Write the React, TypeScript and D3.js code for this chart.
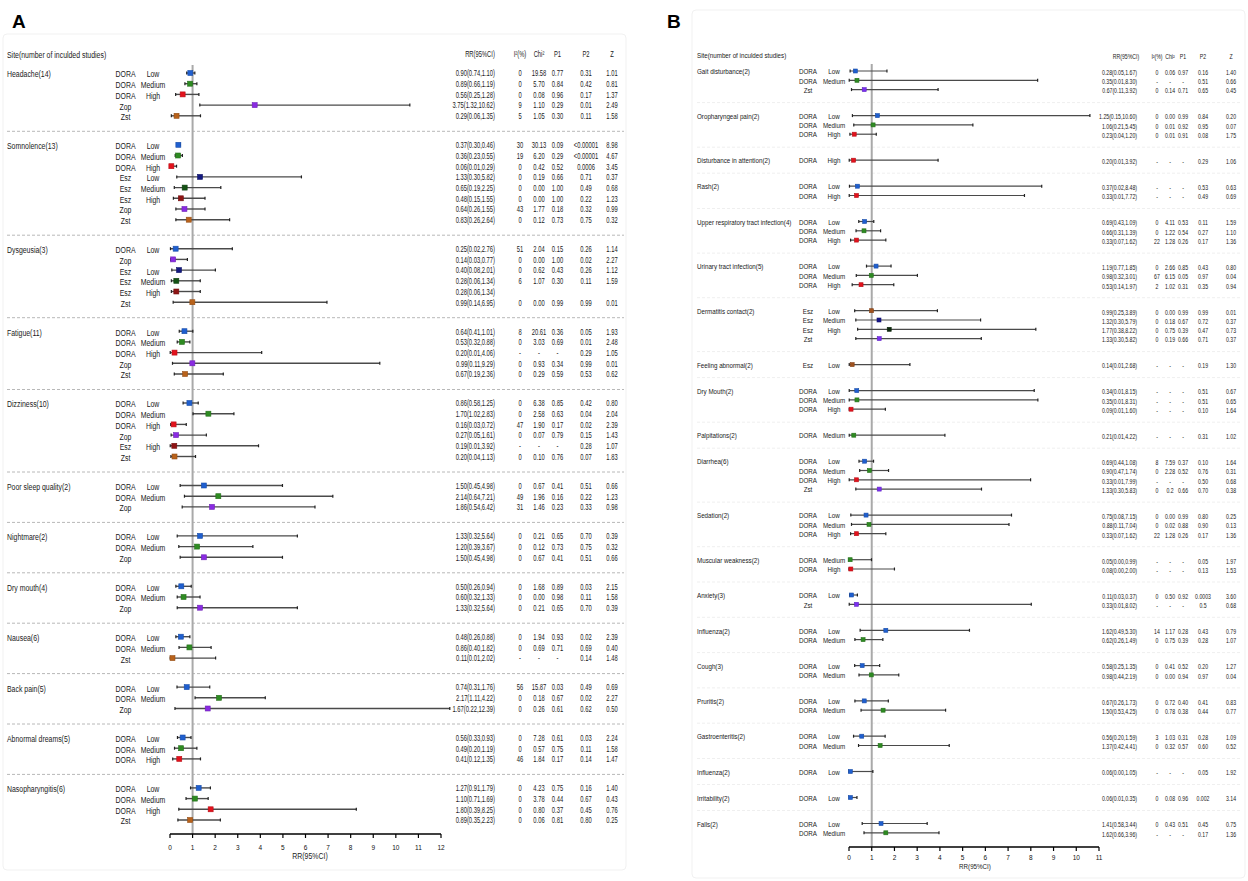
import React from 'react';
import * as d3 from 'd3';

// ---------------- Panel A data ----------------
const groupsA = ["Headache(14)", "Somnolence(13)", "Dysgeusia(3)", "Fatigue(11)", "Dizziness(10)", "Poor sleep quality(2)", "Nightmare(2)", "Dry mouth(4)", "Nausea(6)", "Back pain(5)", "Abnormal dreams(5)", "Nasopharyngitis(6)"];
const groupSizeA = [5, 8, 6, 5, 6, 3, 3, 3, 3, 3, 3, 4];
const drugA = [
  "DORA", "DORA", "DORA", "Zop", "Zst",
  "DORA", "DORA", "DORA", "Esz", "Esz", "Esz", "Zop", "Zst",
  "DORA", "Zop", "Esz", "Esz", "Esz", "Zst",
  "DORA", "DORA", "DORA", "Zop", "Zst",
  "DORA", "DORA", "DORA", "Zop", "Esz", "Zst",
  "DORA", "DORA", "Zop",
  "DORA", "DORA", "Zop",
  "DORA", "DORA", "Zop",
  "DORA", "DORA", "Zst",
  "DORA", "DORA", "Zop",
  "DORA", "DORA", "DORA",
  "DORA", "DORA", "DORA", "Zst"];
const doseA = [
  "Low", "Medium", "High", "", "",
  "Low", "Medium", "High", "Low", "Medium", "High", "", "",
  "Low", "", "Low", "Medium", "High", "",
  "Low", "Medium", "High", "", "",
  "Low", "Medium", "High", "", "High", "",
  "Low", "Medium", "",
  "Low", "Medium", "",
  "Low", "Medium", "",
  "Low", "Medium", "",
  "Low", "Medium", "",
  "Low", "Medium", "High",
  "Low", "Medium", "High", ""];
const rrA = [0.90, 0.89, 0.56, 3.75, 0.29, 0.37, 0.36, 0.06, 1.33, 0.65, 0.48, 0.64, 0.83, 0.25, 0.14, 0.40, 0.28, 0.28, 0.99, 0.64, 0.53, 0.20, 0.99, 0.67, 0.86, 1.70, 0.16, 0.27, 0.19, 0.20, 1.50, 2.14, 1.86, 1.33, 1.20, 1.50, 0.50, 0.60, 1.33, 0.48, 0.86, 0.11, 0.74, 2.17, 1.67, 0.56, 0.49, 0.41, 1.27, 1.10, 1.80, 0.89];
const loA = [0.74, 0.66, 0.25, 1.32, 0.06, 0.30, 0.23, 0.01, 0.30, 0.19, 0.15, 0.26, 0.26, 0.02, 0.03, 0.08, 0.06, 0.06, 0.14, 0.41, 0.32, 0.01, 0.11, 0.19, 0.58, 1.02, 0.03, 0.05, 0.01, 0.04, 0.45, 0.64, 0.54, 0.32, 0.39, 0.45, 0.26, 0.32, 0.32, 0.26, 0.40, 0.01, 0.31, 1.11, 0.22, 0.33, 0.20, 0.12, 0.91, 0.71, 0.39, 0.35];
const hiA = [1.10, 1.19, 1.28, 10.62, 1.35, 0.46, 0.55, 0.29, 5.82, 2.25, 1.55, 1.55, 2.64, 2.76, 0.77, 2.01, 1.34, 1.34, 6.95, 1.01, 0.88, 4.06, 9.29, 2.36, 1.25, 2.83, 0.72, 1.61, 3.92, 1.13, 4.98, 7.21, 6.42, 5.64, 3.67, 4.98, 0.94, 1.33, 5.64, 0.88, 1.82, 2.02, 1.76, 4.22, 12.39, 0.93, 1.19, 1.35, 1.79, 1.69, 8.25, 2.23];
const i2A = ["0", "0", "0", "9", "5", "30", "19", "0", "0", "0", "0", "43", "0", "51", "0", "0", "6", "", "0", "8", "0", "-", "0", "0", "0", "0", "47", "0", "-", "0", "0", "49", "31", "0", "0", "0", "0", "0", "0", "0", "0", "-", "56", "0", "0", "0", "0", "46", "0", "0", "0", "0"];
const chiA = ["19.58", "5.70", "0.08", "1.10", "1.05", "30.13", "6.20", "0.42", "0.19", "0.00", "0.00", "1.77", "0.12", "2.04", "0.00", "0.62", "1.07", "", "0.00", "20.61", "3.03", "-", "0.93", "0.29", "6.38", "2.58", "1.90", "0.07", "-", "0.10", "0.67", "1.96", "1.46", "0.21", "0.12", "0.67", "1.68", "0.00", "0.21", "1.94", "0.69", "-", "15.87", "0.18", "0.26", "7.28", "0.57", "1.84", "4.23", "3.78", "0.80", "0.06"];
const p1A = ["0.77", "0.84", "0.96", "0.29", "0.30", "0.09", "0.29", "0.52", "0.66", "1.00", "1.00", "0.18", "0.73", "0.15", "1.00", "0.43", "0.30", "", "0.99", "0.36", "0.69", "-", "0.34", "0.59", "0.85", "0.63", "0.17", "0.79", "-", "0.76", "0.41", "0.16", "0.23", "0.65", "0.73", "0.41", "0.89", "0.98", "0.65", "0.93", "0.71", "-", "0.03", "0.67", "0.61", "0.61", "0.75", "0.17", "0.75", "0.44", "0.37", "0.81"];
const p2A = ["0.31", "0.42", "0.17", "0.01", "0.11", "<0.00001", "<0.00001", "0.0006", "0.71", "0.49", "0.22", "0.32", "0.75", "0.26", "0.02", "0.26", "0.11", "", "0.99", "0.05", "0.01", "0.29", "0.99", "0.53", "0.42", "0.04", "0.02", "0.15", "0.28", "0.07", "0.51", "0.22", "0.33", "0.70", "0.75", "0.51", "0.03", "0.11", "0.70", "0.02", "0.69", "0.14", "0.49", "0.02", "0.62", "0.03", "0.11", "0.14", "0.16", "0.67", "0.45", "0.80"];
const zA = ["1.01", "0.81", "1.37", "2.49", "1.58", "8.98", "4.67", "3.45", "0.37", "0.68", "1.23", "0.99", "0.32", "1.14", "2.27", "1.12", "1.59", "", "0.01", "1.93", "2.48", "1.05", "0.01", "0.62", "0.80", "2.04", "2.39", "1.43", "1.07", "1.83", "0.66", "1.23", "0.98", "0.39", "0.32", "0.66", "2.15", "1.58", "0.39", "2.39", "0.40", "1.48", "0.69", "2.27", "0.50", "2.24", "1.58", "1.47", "1.40", "0.43", "0.76", "0.25"];
const ticksA = [0, 1, 2, 3, 4, 5, 6, 7, 8, 9, 10, 11, 12];

// ---------------- Panel B data ----------------
const groupsB = ["Gait disturbance(2)", "Oropharyngeal pain(2)", "Disturbance in attention(2)", "Rash(2)", "Upper respiratory tract infection(4)", "Urinary tract infection(5)", "Dermatitis contact(2)", "Feeling abnormal(2)", "Dry Mouth(2)", "Palpitations(2)", "Diarrhea(6)", "Sedation(2)", "Muscular weakness(2)", "Anxiety(3)", "Influenza(2)", "Cough(3)", "Pruritis(2)", "Gastroenteritis(2)", "Influenza(2)", "Irritability(2)", "Falls(2)"];
const groupSizeB = [3, 3, 1, 2, 3, 3, 4, 1, 3, 1, 4, 3, 2, 2, 2, 2, 2, 2, 1, 1, 2];
const drugB = [
  "DORA", "DORA", "Zst",
  "DORA", "DORA", "DORA",
  "DORA",
  "DORA", "DORA",
  "DORA", "DORA", "DORA",
  "DORA", "DORA", "DORA",
  "Esz", "Esz", "Esz", "Zst",
  "Esz",
  "DORA", "DORA", "DORA",
  "DORA",
  "DORA", "DORA", "DORA", "Zst",
  "DORA", "DORA", "DORA",
  "DORA", "DORA",
  "DORA", "Zst",
  "DORA", "DORA",
  "DORA", "DORA",
  "DORA", "DORA",
  "DORA", "DORA",
  "DORA",
  "DORA",
  "DORA", "DORA"];
const doseB = [
  "Low", "Medium", "",
  "Low", "Medium", "High",
  "High",
  "Low", "High",
  "Low", "Medium", "High",
  "Low", "Medium", "High",
  "Low", "Medium", "High", "",
  "Low",
  "Low", "Medium", "High",
  "Medium",
  "Low", "Medium", "High", "",
  "Low", "Medium", "High",
  "Medium", "High",
  "Low", "",
  "Low", "Medium",
  "Low", "Medium",
  "Low", "Medium",
  "Low", "Medium",
  "Low",
  "Low",
  "Low", "Medium"];
const rrB = [0.28, 0.35, 0.67, 1.25, 1.06, 0.23, 0.20, 0.37, 0.33, 0.69, 0.66, 0.33, 1.19, 0.98, 0.53, 0.99, 1.32, 1.77, 1.33, 0.14, 0.34, 0.35, 0.09, 0.21, 0.69, 0.90, 0.33, 1.33, 0.75, 0.88, 0.33, 0.05, 0.08, 0.11, 0.33, 1.62, 0.62, 0.58, 0.98, 0.67, 1.50, 0.56, 1.37, 0.06, 0.06, 1.41, 1.62];
const loB = [0.05, 0.01, 0.11, 0.15, 0.21, 0.04, 0.01, 0.02, 0.01, 0.43, 0.31, 0.07, 0.77, 0.32, 0.14, 0.25, 0.30, 0.38, 0.30, 0.01, 0.01, 0.01, 0.01, 0.01, 0.44, 0.47, 0.01, 0.30, 0.08, 0.11, 0.07, 0.00, 0.00, 0.03, 0.01, 0.49, 0.26, 0.25, 0.44, 0.26, 0.53, 0.20, 0.42, 0.00, 0.01, 0.58, 0.66];
const hiB = [1.67, 8.30, 3.92, 10.60, 5.45, 1.20, 3.92, 8.48, 7.72, 1.09, 1.39, 1.62, 1.85, 3.01, 1.97, 3.89, 5.79, 8.22, 5.82, 2.68, 8.15, 8.31, 1.60, 4.22, 1.08, 1.74, 7.99, 5.83, 7.15, 7.04, 1.62, 0.99, 2.00, 0.37, 8.02, 5.30, 1.49, 1.35, 2.19, 1.73, 4.25, 1.59, 4.41, 1.05, 0.35, 3.44, 3.96];
const i2B = ["0", "-", "0", "0", "0", "0", "-", "-", "-", "0", "0", "22", "0", "67", "2", "0", "0", "0", "0", "-", "-", "-", "-", "-", "8", "0", "-", "0", "0", "0", "22", "-", "-", "0", "-", "14", "0", "0", "0", "0", "0", "3", "0", "-", "0", "0", "-"];
const chiB = ["0.06", "-", "0.14", "0.00", "0.01", "0.01", "-", "-", "-", "4.11", "1.22", "1.28", "2.66", "6.15", "1.02", "0.00", "0.18", "0.75", "0.19", "-", "-", "-", "-", "-", "7.59", "2.28", "-", "0.2", "0.00", "0.02", "1.28", "-", "-", "0.50", "-", "1.17", "0.75", "0.41", "0.00", "0.72", "0.78", "1.03", "0.32", "-", "0.08", "0.43", "-"];
const p1B = ["0.97", "-", "0.71", "0.99", "0.92", "0.91", "-", "-", "-", "0.53", "0.54", "0.26", "0.85", "0.05", "0.31", "0.99", "0.67", "0.39", "0.66", "-", "-", "-", "-", "-", "0.37", "0.52", "-", "0.66", "0.99", "0.88", "0.26", "-", "-", "0.92", "-", "0.28", "0.39", "0.52", "0.94", "0.40", "0.38", "0.31", "0.57", "-", "0.96", "0.51", "-"];
const p2B = ["0.16", "0.51", "0.65", "0.84", "0.95", "0.08", "0.29", "0.53", "0.49", "0.11", "0.27", "0.17", "0.43", "0.97", "0.35", "0.99", "0.72", "0.47", "0.71", "0.19", "0.51", "0.51", "0.10", "0.31", "0.10", "0.76", "0.50", "0.70", "0.80", "0.90", "0.17", "0.05", "0.13", "0.0003", "0.5", "0.43", "0.28", "0.20", "0.97", "0.41", "0.44", "0.28", "0.60", "0.05", "0.002", "0.45", "0.17"];
const zB = ["1.40", "0.66", "0.45", "0.20", "0.07", "1.75", "1.06", "0.63", "0.69", "1.59", "1.10", "1.36", "0.80", "0.04", "0.94", "0.01", "0.37", "0.73", "0.37", "1.30", "0.67", "0.65", "1.64", "1.02", "1.64", "0.31", "0.68", "0.38", "0.25", "0.13", "1.36", "1.97", "1.53", "3.60", "0.68", "0.79", "1.07", "1.27", "0.04", "0.83", "0.77", "1.09", "0.52", "1.92", "3.14", "0.75", "1.36"];
const ticksB = [0, 1, 2, 3, 4, 5, 6, 7, 8, 9, 10, 11];

// ---------------- styles ----------------
const FONT = "Arial, 'Liberation Sans', Helvetica, sans-serif";

const colorsA: Record<string, string> = {
  "DORA Low": "#1f5fcf", "DORA Medium": "#2e8b22", "DORA High": "#e3121c",
  "Zop ": "#8a2be2", "Zst ": "#b8621b",
  "Esz Low": "#141a80", "Esz Medium": "#145214", "Esz High": "#8e1414",
};
const colorsB: Record<string, string> = {
  "DORA Low": "#1f5fcf", "DORA Medium": "#2e8b22", "DORA High": "#e3121c",
  "Zst ": "#7b2ff0", "Esz Low": "#a0521e", "Esz Medium": "#16168a", "Esz High": "#0c2a0c",
};

type Cfg = {
  groups: string[]; sizes: number[]; drug: string[]; dose: string[];
  rr: number[]; lo: number[]; hi: number[];
  i2: string[]; chi: string[]; p1: string[]; p2: string[]; z: string[];
  ticks: number[]; colors: Record<string, string>;
  letter: string; letterX: number;
  box: [number, number, number, number];
  xRange: [number, number]; axisY: number; tickLabelY: number; titleX: number; titleY: number;
  refTop: number; y0: number; step: number; gap: number; sepOff: number;
  sepX: [number, number]; sepColor: string;
  headX: number; headY: number; drugX: number; doseX: number;
  rrRight: number; rrHead: number; cols: number[];
  lf: number; lsx: number; sf: number; ssx: number; mk: number; ciW: number;
};

const T = ({ x, y, sx, size, anchor = 'start', weight = 'normal', fill = '#1a1a1a', children }: any) => (
  <text transform={`translate(${x},${y}) scale(${sx},1)`} fontSize={size} textAnchor={anchor}
    fontWeight={weight} dominantBaseline="central" fontFamily={FONT} fill={fill}>{children}</text>
);

function Panel({ c }: { c: Cfg }) {
  const maxTick = c.ticks[c.ticks.length - 1];
  const x = d3.scaleLinear().domain([0, maxTick]).range(c.xRange);
  // row layout
  const ys: number[] = [];
  const gy: number[] = [];
  const seps: number[] = [];
  let y = c.y0;
  c.sizes.forEach((n, gi) => {
    gy.push(y);
    for (let i = 0; i < n; i++) {
      ys.push(y);
      if (i < n - 1) y += c.step;
    }
    if (gi < c.sizes.length - 1) {
      seps.push(y + c.sepOff);
      y += c.gap;
    }
  });
  const fmt = d3.format('.2f');
  const statCols = [c.i2, c.chi, c.p1, c.p2, c.z];
  const heads = ['I²(%)', 'Chi²', 'P1', 'P2', 'Z'];
  return (
    <g>
      <rect x={c.box[0]} y={c.box[1]} width={c.box[2]} height={c.box[3]} fill="none" stroke="#f1f1f1" strokeWidth={1} rx={4} />
      <text x={c.letterX} y={28} fontSize={19} fontWeight="bold" fontFamily={FONT} fill="#000">{c.letter}</text>
      <T x={c.headX} y={c.headY} sx={c.lsx} size={c.lf}>Site(number of inculded studies)</T>
      <T x={c.rrHead} y={c.headY} sx={c.ssx} size={c.sf} anchor="middle">RR(95%CI)</T>
      {heads.map((h, i) => (
        <T key={h} x={c.cols[i]} y={c.headY} sx={c.ssx} size={c.sf} anchor="middle">{h}</T>
      ))}
      {seps.map((s, i) => (
        <line key={'s' + i} x1={c.sepX[0]} x2={c.sepX[1]} y1={s} y2={s} stroke={c.sepColor} strokeWidth={1} strokeDasharray="3,2" />
      ))}
      {c.groups.map((g, i) => (
        <T key={'g' + i} x={c.headX} y={gy[i] + 1} sx={c.lsx} size={c.lf}>{g}</T>
      ))}
      <line x1={x(1)} x2={x(1)} y1={c.refTop} y2={c.axisY} stroke="#a9a9a9" strokeWidth={2} />
      {ys.map((ry, i) => {
        const col = c.colors[c.drug[i] + ' ' + c.dose[i]] || '#333';
        const h = c.mk;
        return (
          <g key={'r' + i}>
            <T x={c.drugX} y={ry + 1} sx={c.lsx} size={c.lf} anchor="middle">{c.drug[i]}</T>
            {c.dose[i] && <T x={c.doseX} y={ry + 1} sx={c.lsx} size={c.lf} anchor="middle">{c.dose[i]}</T>}
            <line x1={x(c.lo[i])} x2={x(c.hi[i])} y1={ry} y2={ry} stroke="#4a4a4a" strokeWidth={c.ciW} />
            <line x1={x(c.lo[i])} x2={x(c.lo[i])} y1={ry - 1.5} y2={ry + 1.5} stroke="#222" strokeWidth={1.2} />
            <line x1={x(c.hi[i])} x2={x(c.hi[i])} y1={ry - 1.5} y2={ry + 1.5} stroke="#222" strokeWidth={1.2} />
            <rect x={x(c.rr[i]) - h / 2} y={ry - h / 2} width={h} height={h} fill={col} stroke={d3.color(col)!.darker(0.6).toString()} strokeWidth={0.6} />
            <T x={c.rrRight} y={ry + 1} sx={c.ssx} size={c.sf} anchor="end">{`${fmt(c.rr[i])}(${fmt(c.lo[i])},${fmt(c.hi[i])})`}</T>
            {statCols.map((arr, k) => (
              <T key={k} x={c.cols[k]} y={ry + 1} sx={c.ssx} size={c.sf} anchor="middle">{arr[i]}</T>
            ))}
          </g>
        );
      })}
      <line x1={x(0)} x2={x(maxTick)} y1={c.axisY} y2={c.axisY} stroke="#000" strokeWidth={1.6} />
      {c.ticks.map(t => (
        <g key={'t' + t}>
          <line x1={x(t)} x2={x(t)} y1={c.axisY} y2={c.axisY + 4} stroke="#000" strokeWidth={1.2} />
          <text x={x(t)} y={c.tickLabelY} fontSize={6.5} textAnchor="middle" dominantBaseline="central" fontFamily={FONT} fill="#111">{t}</text>
        </g>
      ))}
      <T x={c.titleX} y={c.titleY} sx={c.lsx} size={c.lf} anchor="middle">RR(95%CI)</T>
    </g>
  );
}

const cfgA: Cfg = {
  groups: groupsA, sizes: groupSizeA, drug: drugA, dose: doseA, rr: rrA, lo: loA, hi: hiA,
  i2: i2A, chi: chiA, p1: p1A, p2: p2A, z: zA, ticks: ticksA, colors: colorsA,
  letter: 'A', letterX: 12, box: [3, 34, 623, 836],
  xRange: [170, 441], axisY: 834, tickLabelY: 847, titleX: 310, titleY: 856,
  refTop: 65, y0: 73, step: 10.7, gap: 29, sepOff: 15.5,
  sepX: [7, 624], sepColor: '#b8b8b8',
  headX: 7, headY: 55, drugX: 125.5, doseX: 153,
  rrRight: 495, rrHead: 480, cols: [520, 539, 557.5, 586, 612],
  lf: 9.5, lsx: 0.73, sf: 8.3, ssx: 0.7, mk: 5, ciW: 1.4,
};

const cfgB: Cfg = {
  groups: groupsB, sizes: groupSizeB, drug: drugB, dose: doseB, rr: rrB, lo: loB, hi: hiB,
  i2: i2B, chi: chiB, p1: p1B, p2: p2B, z: zB, ticks: ticksB, colors: colorsB,
  letter: 'B', letterX: 667, box: [692, 10, 553, 868],
  xRange: [849, 1099], axisY: 847, tickLabelY: 857, titleX: 975, titleY: 867,
  refTop: 64, y0: 71, step: 9.3, gap: 26, sepOff: 13,
  sepX: [697, 1240], sepColor: '#efefef',
  headX: 697, headY: 56, drugX: 808, doseX: 834,
  rrRight: 1137, rrHead: 1126, cols: [1157, 1170, 1183, 1203, 1231],
  lf: 8, lsx: 0.78, sf: 7, ssx: 0.74, mk: 4, ciW: 1.2,
};

export default function App() {
  return (
    <svg width={1248} height={881} viewBox="0 0 1248 881"
      style={{ position: 'absolute', left: 0, top: 0, display: 'block', background: '#fff' }}>
      <rect x={0} y={0} width={1248} height={881} fill="#fff" />
      <Panel c={cfgA} />
      <Panel c={cfgB} />
    </svg>
  );
}
